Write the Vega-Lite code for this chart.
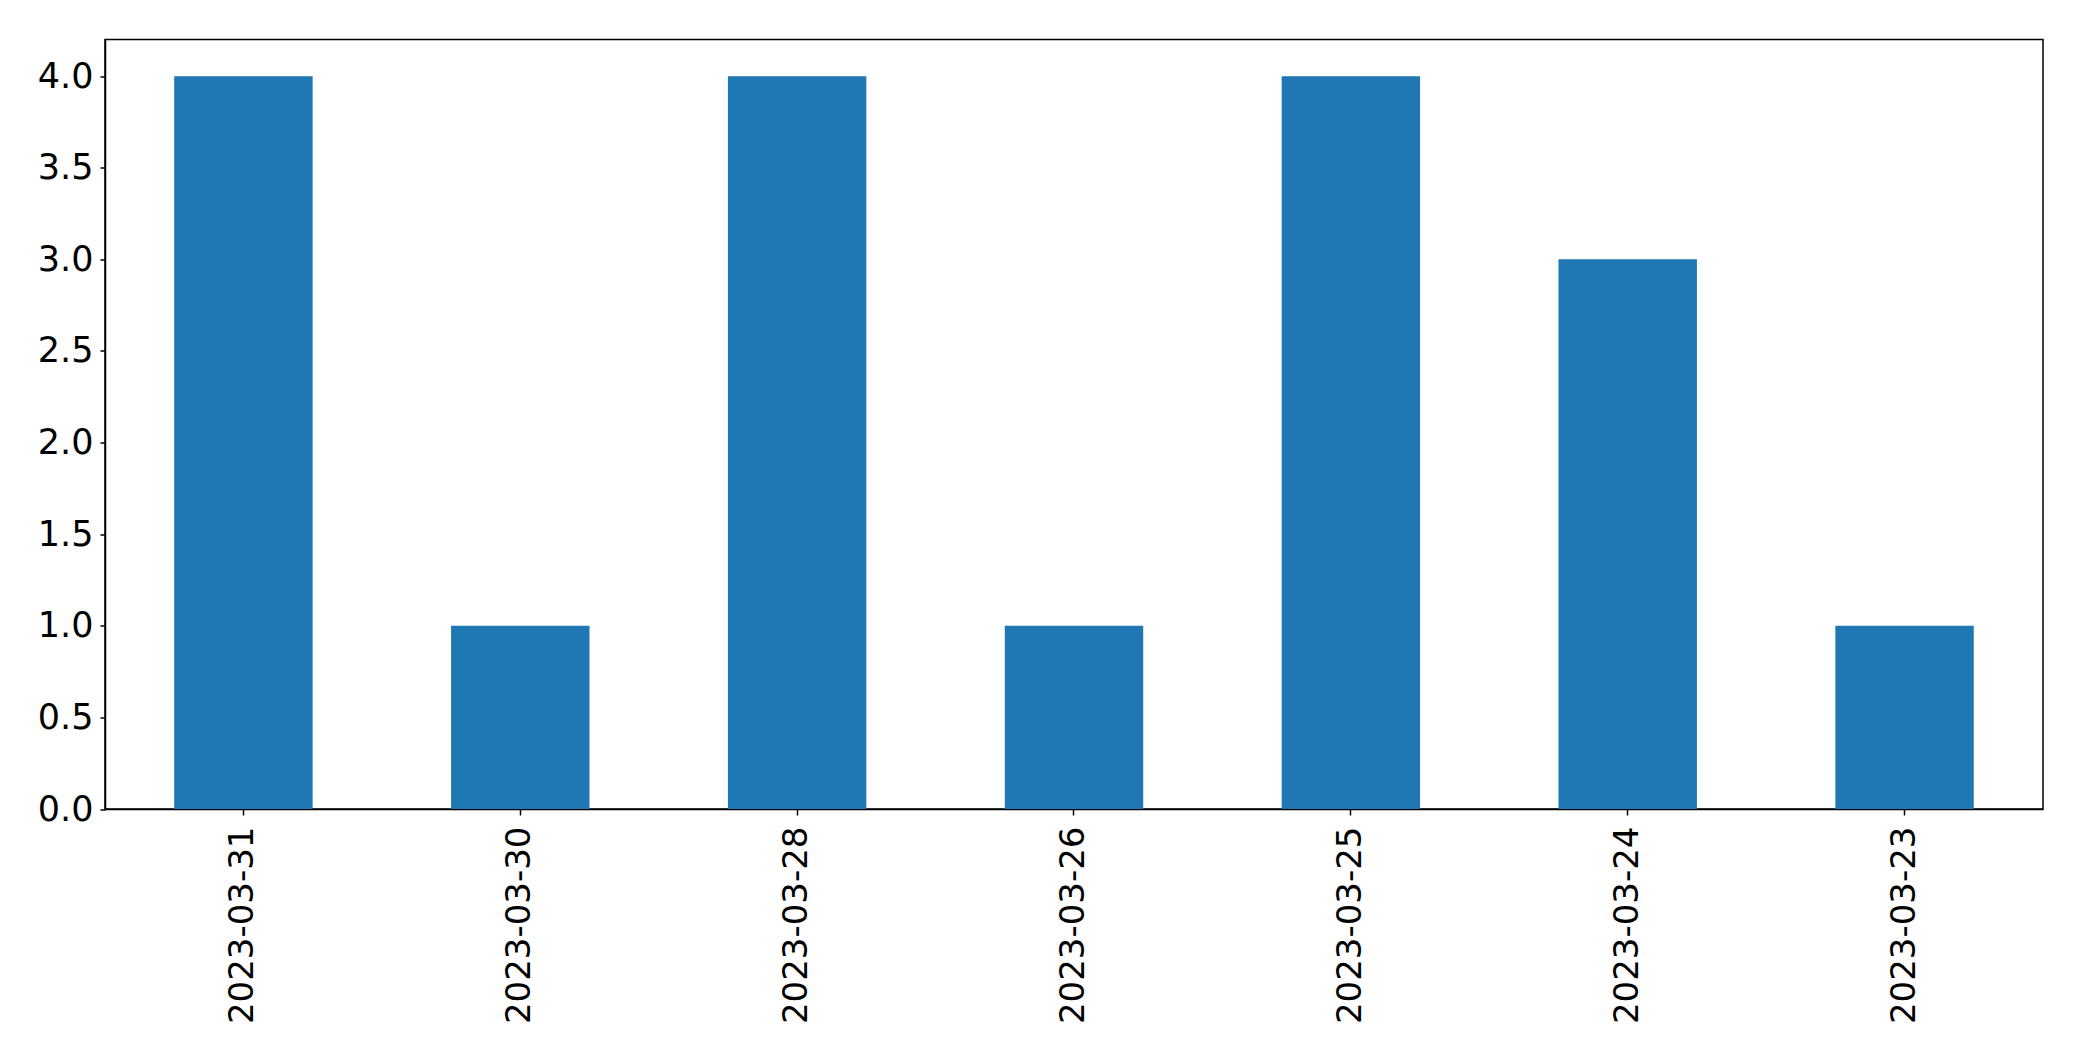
{
  "$schema": "https://vega.github.io/schema/vega-lite/v6.json",
  "autosize": "none",
  "padding": {"left": 105, "top": 39.5, "right": 39, "bottom": 252},
  "width": 1938,
  "height": 769.5,
  "background": "white",
  "config": {
    "view": {"stroke": "black", "strokeWidth": 1.5},
    "font": "DejaVu Sans"
  },
  "data": {
    "values": [
      {"date": "2023-03-31", "count": 4},
      {"date": "2023-03-30", "count": 1},
      {"date": "2023-03-28", "count": 4},
      {"date": "2023-03-26", "count": 1},
      {"date": "2023-03-25", "count": 4},
      {"date": "2023-03-24", "count": 3},
      {"date": "2023-03-23", "count": 1}
    ]
  },
  "mark": {"type": "bar", "color": "#1f77b4"},
  "encoding": {
    "x": {
      "field": "date",
      "type": "nominal",
      "sort": null,
      "scale": {"paddingInner": 0.5, "paddingOuter": 0.25},
      "axis": {
        "title": null,
        "labelAngle": -90,
        "labelAlign": "right",
        "labelBaseline": "middle",
        "labelFont": "DejaVu Sans",
        "labelFontSize": 34,
        "labelLimit": 0,
        "labelColor": "black",
        "labelPadding": 11,
        "tickSize": 6,
        "tickColor": "black",
        "tickWidth": 1.5,
        "domainColor": "black",
        "domainWidth": 1.5
      }
    },
    "y": {
      "field": "count",
      "type": "quantitative",
      "scale": {"domain": [0, 4.2], "nice": false},
      "axis": {
        "title": null,
        "values": [0, 0.5, 1, 1.5, 2, 2.5, 3, 3.5, 4],
        "format": ".1f",
        "grid": false,
        "labelFont": "DejaVu Sans",
        "labelFontSize": 35,
        "labelLimit": 0,
        "labelColor": "black",
        "labelPadding": 7,
        "tickSize": 5,
        "tickColor": "black",
        "tickWidth": 1.5,
        "domainColor": "black",
        "domainWidth": 1.5
      }
    }
  }
}
